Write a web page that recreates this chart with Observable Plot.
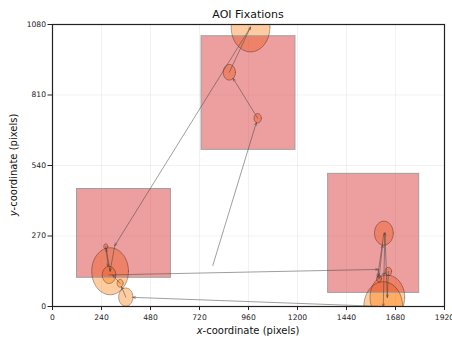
<!DOCTYPE html>
<html><head><meta charset="utf-8">
<script src="https://cdn.jsdelivr.net/npm/d3@7"></script>
<script src="https://cdn.jsdelivr.net/npm/@observablehq/plot@0.6"></script>
<style>body{margin:0;background:#fff;}</style>
</head><body><div id="chart"></div>
<script>
const xTicks = [0, 240, 480, 720, 960, 1200, 1440, 1680, 1920];
const yTicks = [0, 270, 540, 810, 1080];

// Areas of interest
const aoiX1 = [120, 730, 1350];
const aoiX2 = [580, 1190, 1796];
const aoiY1 = [110, 600, 52];
const aoiY2 = [450, 1035, 508];

// Scanpath fixations in order (radius 0 = waypoint without circle)
const fixX = [785, 1005, 866, 970, 305, 282, 261, 277, 1595, 1599, 1623, 1592, 1645, 1640, 1628, 1620, 359, 331, 295];
const fixY = [157, 721, 897, 1070, 233, 135, 230, 121, 142, 106, 281, 112, 134, 35, 282, 0, 36, 89, 120];
const fixR = [0, 18, 30, 95, 0, 90, 10, 33, 0, 12, 46, 0, 16, 85, 0, 95, 35, 15, 0];

const aois = aoiX1.map((x1, i) => ({x1, x2: aoiX2[i], y1: aoiY1[i], y2: aoiY2[i]}));
const fixations = fixX.map((x, i) => ({i, x, y: fixY[i], r: fixR[i]}));
const circles = fixations.filter(d => d.r > 0);
const N = 72;
const outline = circles.flatMap(d => d3.range(N + 1).map(k => {
  const a = 2 * Math.PI * k / N;
  return {id: d.i, x: d.x + d.r * Math.cos(a), y: d.y + d.r * Math.sin(a)};
}));
const arrows = d3.pairs(fixations).map(([a, b]) => {
  const dx = b.x - a.x, dy = b.y - a.y, L = Math.hypot(dx, dy);
  const s = (b.r > 0 && b.r < 50 && L > b.r) ? b.r / L : 0;
  return {x1: a.x, y1: a.y, x2: b.x - dx * s, y2: b.y - dy * s};
});

const chart = Plot.plot({
  width: 452, height: 341,
  marginLeft: 52, marginRight: 8, marginTop: 24, marginBottom: 35,
  style: {fontFamily: "'DejaVu Sans', sans-serif", fontSize: "7.6px", color: "#222", background: "#fff"},
  x: {domain: [0, 1920], ticks: xTicks, tickSize: 4, tickPadding: 4, label: null, tickFormat: d => String(d)},
  y: {domain: [0, 1080], ticks: yTicks, tickSize: 4.5, tickPadding: 2, label: null, tickFormat: d => String(d)},
  marks: [
    Plot.ruleX(xTicks, {stroke: "#000", strokeOpacity: 0.05}),
    Plot.ruleY(yTicks, {stroke: "#000", strokeOpacity: 0.05}),
    Plot.line(outline, {x: "x", y: "y", z: "id", fill: "#ff7f0e", fillOpacity: 0.4, stroke: "none", clip: true}),
    Plot.rect(aois, {x1: "x1", x2: "x2", y1: "y1", y2: "y2", fill: "#d62728", fillOpacity: 0.45, stroke: "#a0a0a0", strokeWidth: 1}),
    Plot.line(outline, {x: "x", y: "y", z: "id", stroke: "#000", strokeOpacity: 0.4, strokeWidth: 0.8, clip: true}),
    Plot.arrow(arrows, {x1: "x1", y1: "y1", x2: "x2", y2: "y2", stroke: "#444", strokeOpacity: 0.65, strokeWidth: 0.8, headLength: 5, headAngle: 45, clip: true}),
    Plot.frame({stroke: "#222", strokeWidth: 1.2})
  ]
});

const svg = d3.select(chart);
svg.append("text").attr("x", 248).attr("y", 17.5).attr("text-anchor", "middle")
  .attr("font-size", 11).attr("fill", "#111").text("AOI Fixations");
const xl = svg.append("text").attr("x", 248).attr("y", 333.5).attr("text-anchor", "middle")
  .attr("font-size", 10).attr("fill", "#111");
xl.append("tspan").attr("font-style", "italic").text("x");
xl.append("tspan").text("-coordinate (pixels)");
const yl = svg.append("text").attr("transform", "translate(17,165) rotate(-90)").attr("text-anchor", "middle")
  .attr("font-size", 10).attr("fill", "#111");
yl.append("tspan").attr("font-style", "italic").text("y");
yl.append("tspan").text("-coordinate (pixels)");

document.getElementById("chart").appendChild(chart);
</script>
</body></html>
